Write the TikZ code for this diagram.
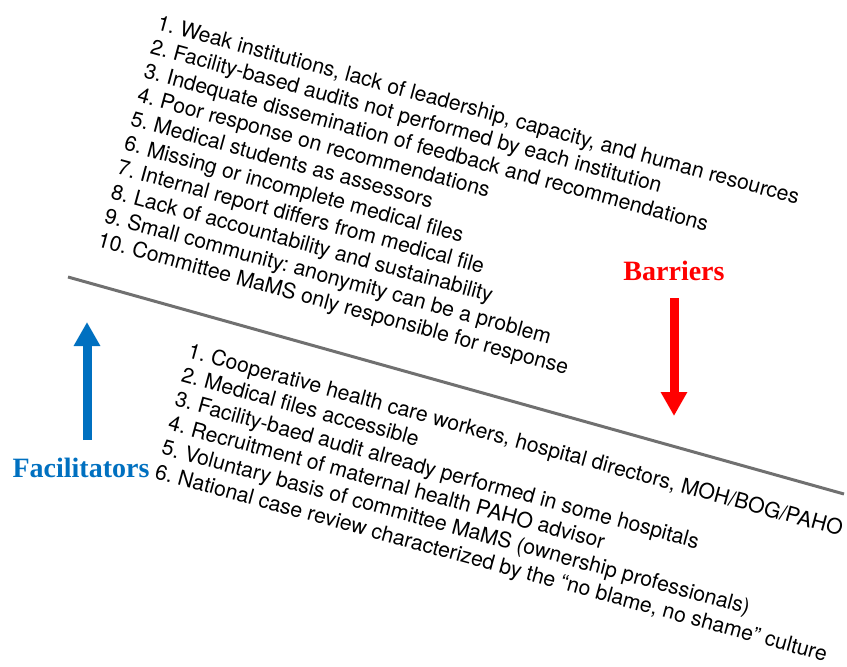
\documentclass[tikz,border=0pt]{standalone}
\usepackage{fontspec}
\usepackage{xcolor}
\usetikzlibrary{arrows.meta, positioning, calc}
\newfontfamily\listfont{TeX Gyre Heros}
\newfontfamily\headfont{Liberation Serif}
\definecolor{barrierred}{RGB}{255,0,0}
\definecolor{facilblue}{RGB}{0,112,192}
\definecolor{dividergray}{RGB}{112,112,112}
\tikzset{
	itemlist/.style={align=left, inner sep=0pt, rotate=-15.3, anchor=north west, font=\listfont\fontsize{21.2}{25}\selectfont\frenchspacing},
	heading/.style={font=\headfont\bfseries\fontsize{28}{30}\selectfont, inner sep=0pt, anchor=base},
	bigarrow/.style={line width=9pt, -{Triangle[length=24pt, width=25pt]}}
}

\begin{document}
\begin{tikzpicture}[
	x=1pt, y=-1pt,
	divider/.style={dividergray, line width=3pt}
	]
	\useasboundingbox (0,0) rectangle (847,667);
	
	% Dividing line
	\coordinate (divider_left) at (68,277);
	\coordinate (divider_right) at (844,494);
	\draw[divider] (divider_left) -- (divider_right);
	
	%
	% Barriers (above the line)
	%
	\node[itemlist] (barrier_list) at (160,14) {1. Weak institutions, lack of leadership, capacity, and human resources\\
		2. Facility-based audits not performed by each institution\\
		3. Indequate dissemination of feedback and recommendations\\
		4. Poor response on recommendations\\
		5. Medical students as assessors\\
		6. Missing or incomplete medical files\\
		7. Internal report differs from medical file\\
		8. Lack of accountability and sustainability\\
		9. Small community: anonymity can be a problem\\
		10. Committee MaMS only responsible for response};
	
	\node[heading, barrierred] (barrier_label) at (674,280) {Barriers};
	\coordinate (barrier_tail) at (674,298);
	\coordinate (barrier_tip) at (674,416);
	\draw[bigarrow, barrierred] (barrier_tail) -- (barrier_tip);
	
	%
	% Facilitators (below the line)
	%
	\node[itemlist] (facilitator_list) at (191,342) {1. Cooperative health care workers, hospital directors, MOH/BOG/PAHO\\
		2. Medical files accessible\\
		3. Facility-baed audit already performed in some hospitals\\
		4. Recruitment of maternal health PAHO advisor\\
		5. Voluntary basis of committee MaMS (ownership professionals)\\
		6. National case review characterized by the “no blame, no shame” culture};
	
	\node[heading, facilblue] (facilitator_label) at (81,477) {Facilitators};
	\coordinate (facilitator_tail) at (87,440);
	\coordinate (facilitator_tip) at (87,322);
	\draw[bigarrow, facilblue] (facilitator_tail) -- (facilitator_tip);
	
\end{tikzpicture}
\end{document}
